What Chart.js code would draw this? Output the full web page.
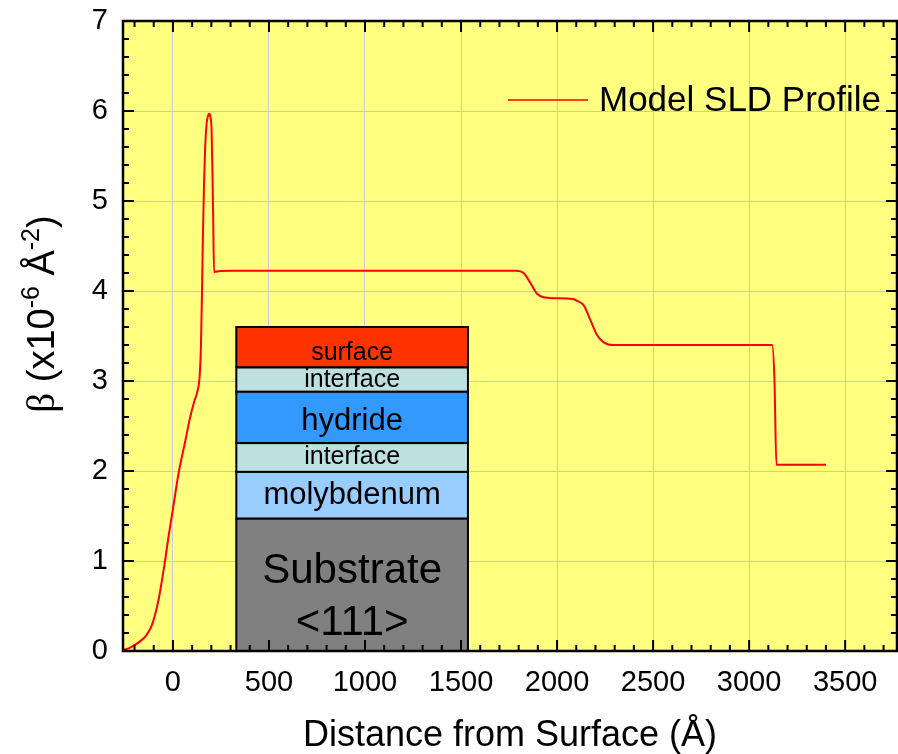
<!DOCTYPE html>
<html>
<head>
<meta charset="utf-8">
<script src="https://cdn.jsdelivr.net/npm/chart.js@4.4.0/dist/chart.umd.min.js"></script>
<style>
  html, body { margin: 0; padding: 0; background: #fff; }
  #wrap { width: 898px; height: 754px; }
</style>
</head>
<body>
<div id="wrap"><canvas id="sldChart"></canvas></div>
<script>
// Model SLD profile (distance in Angstrom, beta in 1e-6 A^-2)
const distance = [-258, -230, -196, -170, -144, -109, -75, -44, -23, -2, 29, 64, 90, 112, 128,
    139, 146, 151, 156, 162, 168, 175, 182, 189, 196, 201, 205, 209, 214, 222, 300, 1000, 1790,
    1826, 1861, 1896, 1930, 1982, 2080, 2104, 2139, 2173, 2208, 2243, 2295, 3120, 3132, 3142, 3400];
const sld = [0.01, 0.03, 0.07, 0.11, 0.16, 0.29, 0.57, 0.96, 1.27, 1.55, 1.97, 2.33, 2.60, 2.78, 2.89,
    3.05, 3.40, 3.95, 4.60, 5.20, 5.60, 5.85, 5.94, 5.97, 5.93, 5.80, 5.40, 4.90, 4.21, 4.215, 4.225, 4.225, 4.225,
    4.20, 4.09, 3.97, 3.93, 3.92, 3.91, 3.89, 3.84, 3.68, 3.51, 3.43, 3.40, 3.40, 3.01, 2.07, 2.07];

// Axis ticks
const xTicks = [0, 500, 1000, 1500, 2000, 2500, 3000, 3500];
const yTicks = [0, 1, 2, 3, 4, 5, 6, 7];

// Layer stack sketch, edges in beta units, span in Angstrom
const layerNames = ['surface', 'interface', 'hydride', 'interface', 'molybdenum', 'Substrate\n<111>'];
const layerEdges = [3.60, 3.15, 2.88, 2.31, 1.99, 1.47, 0];
const stackSpan = [330, 1536];

// Styles
const FONT = '"Liberation Sans", Arial, sans-serif';
const layerColors = ['#ff3300', '#bde0e0', '#3399ff', '#bde0e0', '#99ccff', '#808080'];
const layerFontSizes = [25, 25, 31, 25, 31, 42];
const layerTextShift = [6, 0, 4, 0, 0, -13];

const plotBackground = {
    id: 'plotBackground',
    beforeDraw(chart) {
        const { ctx, chartArea: a } = chart;
        ctx.save();
        ctx.fillStyle = '#ffff80';
        ctx.fillRect(a.left, a.top, a.width, a.height);
        ctx.restore();
    }
};

// Draw the sample layer sketch inside the plot
const layerStack = {
    id: 'layerStack',
    beforeDatasetsDraw(chart) {
        const { ctx, scales: { x, y } } = chart;
        const left = x.getPixelForValue(stackSpan[0]);
        const right = x.getPixelForValue(stackSpan[1]);
        const cx = (left + right) / 2;
        ctx.save();
        layerNames.forEach((name, i) => {
            const top = y.getPixelForValue(layerEdges[i]);
            const bottom = y.getPixelForValue(layerEdges[i + 1]);
            ctx.fillStyle = layerColors[i];
            ctx.fillRect(left, top, right - left, bottom - top);
            ctx.lineWidth = 2;
            ctx.strokeStyle = '#000';
            ctx.strokeRect(left, top, right - left, bottom - top);
            ctx.fillStyle = '#000';
            ctx.font = `${layerFontSizes[i]}px ${FONT}`;
            ctx.textAlign = 'center';
            ctx.textBaseline = 'middle';
            const mid = (top + bottom) / 2 + layerTextShift[i];
            name.split('\n').forEach((line, j) => {
                ctx.fillText(line, cx, mid + j * layerFontSizes[i] * 1.22);
            });
        });
        ctx.restore();
    }
};

// Inward ticks on all four sides plus the frame
const frameTicks = {
    id: 'frameTicks',
    afterDatasetsDraw(chart) {
        const { ctx, chartArea: a, scales: { x, y } } = chart;
        ctx.save();
        ctx.strokeStyle = '#000';
        ctx.lineWidth = 2;
        ctx.beginPath();
        for (let v = Math.ceil(x.min / 100) * 100; v <= x.max; v += 100) {
            const px = x.getPixelForValue(v);
            const len = v % 500 === 0 ? 11 : 6;
            ctx.moveTo(px, a.bottom); ctx.lineTo(px, a.bottom - len);
            ctx.moveTo(px, a.top); ctx.lineTo(px, a.top + len);
        }
        for (let k = 0; k <= 35; k++) {
            const py = y.getPixelForValue(k * 0.2);
            const len = k % 5 === 0 ? 11 : 6;
            ctx.moveTo(a.left, py); ctx.lineTo(a.left + len, py);
            ctx.moveTo(a.right, py); ctx.lineTo(a.right - len, py);
        }
        ctx.stroke();
        ctx.lineWidth = 2.5;
        ctx.strokeRect(a.left, a.top, a.width, a.height);
        ctx.restore();
    }
};

// Legend entry and y title with superscripts
const extras = {
    id: 'extras',
    afterDraw(chart) {
        const { ctx, chartArea: a } = chart;
        const ds = chart.data.datasets[0];
        ctx.save();
        const ly = a.top + 79;
        ctx.strokeStyle = ds.borderColor;
        ctx.lineWidth = 1.5;
        ctx.beginPath();
        ctx.moveTo(a.right - 389, ly);
        ctx.lineTo(a.right - 309, ly);
        ctx.stroke();
        ctx.fillStyle = '#000';
        ctx.font = `35px ${FONT}`;
        ctx.textAlign = 'left';
        ctx.textBaseline = 'middle';
        ctx.fillText(ds.label, a.right - 298, ly + 1);

        const main = `38px ${FONT}`;
        const sup = `25px ${FONT}`;
        const parts = [
            { t: '\u03b2', font: '39px "Liberation Serif", "Times New Roman", serif', dy: 0 },
            { t: ' (x10', font: main, dy: 0 },
            { t: '-6', font: sup, dy: -15 },
            { t: ' \u00c5', font: main, dy: 0 },
            { t: '-2', font: sup, dy: -15 },
            { t: ')', font: main, dy: 0 }
        ];
        let total = 0;
        parts.forEach(p => { ctx.font = p.font; p.w = ctx.measureText(p.t).width; total += p.w; });
        ctx.translate(54, 314);
        ctx.rotate(-Math.PI / 2);
        ctx.textBaseline = 'alphabetic';
        let px = -total / 2;
        parts.forEach(p => {
            ctx.font = p.font;
            ctx.fillText(p.t, px, p.dy);
            px += p.w;
        });
        ctx.restore();
    }
};

new Chart(document.getElementById('sldChart'), {
    type: 'line',
    data: {
        datasets: [{
            label: 'Model SLD Profile',
            data: distance.map((d, i) => ({ x: d, y: sld[i] })),
            borderColor: '#ff0000',
            borderWidth: 2,
            pointRadius: 0,
            fill: false,
            cubicInterpolationMode: 'monotone'
        }]
    },
    options: {
        responsive: true,
        maintainAspectRatio: false,
        animation: false,
        layout: { padding: { left: 0, right: 1, top: 21, bottom: 0 } },
        plugins: {
            legend: { display: false },
            tooltip: { enabled: false }
        },
        scales: {
            x: {
                type: 'linear',
                min: -260,
                max: 3770,
                afterBuildTicks: axis => { axis.ticks = xTicks.map(v => ({ value: v })); },
                afterFit: axis => {
                    axis.height = 103;
                    axis.paddingLeft = 0;
                    axis.paddingRight = 0;
                },
                ticks: {
                    font: { family: FONT, size: 29 },
                    color: '#000',
                    padding: 15,
                    maxRotation: 0,
                    autoSkip: false,
                    callback: v => String(v)
                },
                grid: { color: '#c8c8d2', lineWidth: 1, drawTicks: false },
                border: { display: false },
                title: {
                    display: true,
                    text: 'Distance from Surface (\u00c5)',
                    color: '#000',
                    font: { family: FONT, size: 36, lineHeight: 1 },
                    padding: { top: 0, bottom: 0 }
                }
            },
            y: {
                min: 0,
                max: 7,
                afterBuildTicks: axis => { axis.ticks = yTicks.map(v => ({ value: v })); },
                afterFit: axis => {
                    axis.width = 123;
                    axis.paddingTop = 0;
                    axis.paddingBottom = 0;
                },
                ticks: {
                    font: { family: FONT, size: 29 },
                    color: '#000',
                    padding: 15,
                    callback: v => String(v)
                },
                grid: { color: '#c8c8d2', lineWidth: 1, drawTicks: false },
                border: { display: false }
            }
        }
    },
    plugins: [plotBackground, layerStack, frameTicks, extras]
});
</script>
</body>
</html>
